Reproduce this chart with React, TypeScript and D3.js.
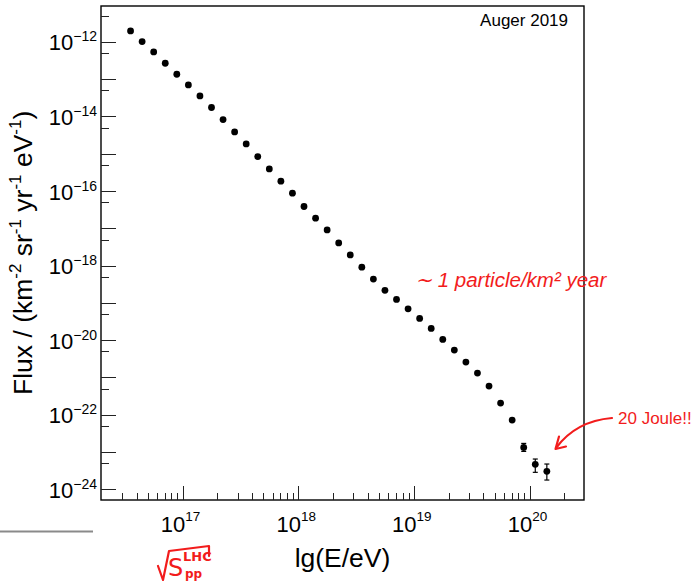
import React from "react";
import * as d3 from "d3";

// ---- data ----
const lgE = [
  16.55, 16.65, 16.75, 16.85, 16.95, 17.05, 17.15, 17.25, 17.35, 17.45,
  17.55, 17.65, 17.75, 17.85, 17.95, 18.05, 18.15, 18.25, 18.35, 18.45,
  18.55, 18.65, 18.75, 18.85, 18.95, 19.05, 19.15, 19.25, 19.35, 19.45,
  19.55, 19.65, 19.75, 19.85, 19.95, 20.05, 20.15,
];
const flux = [
  1.97e-12, 1.02e-12, 5.38e-13, 2.68e-13, 1.36e-13, 7.01e-14, 3.56e-14, 1.74e-14, 8.28e-15, 3.85e-15,
  1.84e-15, 8.43e-16, 3.93e-16, 1.84e-16, 8.75e-17, 3.85e-17, 1.87e-17, 9.08e-18, 4.07e-18, 1.94e-18,
  9.08e-19, 4.34e-19, 2.17e-19, 1.24e-19, 6.92e-20, 3.83e-20, 2.07e-20, 1.05e-20, 5.41e-21, 2.58e-21,
  1.31e-21, 5.86e-22, 2.05e-22, 7.19e-23, 1.33e-23, 4.67e-24, 3.03e-24,
];
const errUp = [
  0, 0, 0, 0, 0, 0, 0, 0, 0, 0,
  0, 0, 0, 0, 0, 0, 0, 0, 0, 0,
  0, 0, 0, 0, 0, 0, 0, 0, 0, 0,
  0, 0, 0, 0, 0.37e-23, 1.81e-24, 1.73e-24,
];
const errLow = [
  0, 0, 0, 0, 0, 0, 0, 0, 0, 0,
  0, 0, 0, 0, 0, 0, 0, 0, 0, 0,
  0, 0, 0, 0, 0, 0, 0, 0, 0, 0,
  0, 0, 0, 0, 0.29e-23, 1.82e-24, 1.26e-24,
];
const xDomain = [1.97e16, 2.96e20];
const yDomain = [5.16e-25, 9.2e-12];
const xLabelExps = [17, 18, 19, 20];
const yLabelExps = [-12, -14, -16, -18, -20, -22, -24];
const yDecades = [-25, -24, -23, -22, -21, -20, -19, -18, -17, -16, -15, -14, -13, -12, -11];
const legendText = "Auger 2019";
const xTitle = "lg(E/eV)";

const W = 699;
const H = 581;
const L = 101, R = 584, T = 6, B = 500;
const FONT = "'Liberation Sans', Arial, Helvetica, sans-serif";
const RED = "#f21c1c";

export default function App() {
  const x = d3.scaleLog().domain(xDomain).range([L, R]);
  const y = d3.scaleLog().domain(yDomain).range([B, T]);

  const xTicks = x.ticks().filter((t) => x(t) > L + 1 && x(t) < R - 1);
  const yTicks: { v: number; major: boolean }[] = [];
  yDecades.forEach((d) => {
    yTicks.push({ v: Math.pow(10, d), major: true });
    yTicks.push({ v: 5 * Math.pow(10, d), major: false });
  });
  const yT = yTicks.filter((t) => y(t.v) > T + 1 && y(t.v) < B - 1);

  return (
    <svg
      width={W}
      height={H}
      viewBox={`0 0 ${W} ${H}`}
      style={{ position: "absolute", left: 0, top: 0, background: "#fff" }}
      fontFamily={FONT}
    >
      <rect x={0} y={0} width={W} height={H} fill="#fff" />
      {/* frame */}
      <rect x={L} y={T} width={R - L} height={B - T} fill="none" stroke="#000" strokeWidth={1.4} />

      {/* x ticks */}
      {xTicks.map((t, i) => {
        const major = Math.abs(Math.log10(t) - Math.round(Math.log10(t))) < 1e-6;
        const xx = Math.round(x(t)) + 0.5;
        return (
          <line key={"xt" + i} x1={xx} x2={xx} y1={B} y2={B - (major ? 14 : 7)} stroke="#222" strokeWidth={1} />
        );
      })}
      {/* y ticks */}
      {yT.map((t, i) => {
        const yy = Math.round(y(t.v)) + 0.5;
        return (
          <line key={"yt" + i} x1={L} x2={L + (t.major ? 15 : 8)} y1={yy} y2={yy} stroke="#222" strokeWidth={1} />
        );
      })}

      {/* x labels */}
      {xLabelExps.map((e) => (
        <text key={"xl" + e} x={x(Math.pow(10, e)) - 2} y={B + 31.5} textAnchor="middle" fontSize={22} fill="#000">
          10
          <tspan fontSize={13.5} dy={-11}>{e}</tspan>
        </text>
      ))}
      {/* y labels */}
      {yLabelExps.map((e) => (
        <text key={"yl" + e} x={97} y={y(Math.pow(10, e)) + 8.5} textAnchor="end" fontSize={22} fill="#000">
          10
          <tspan fontSize={14} dy={-9}>{"\u2212" + Math.abs(e)}</tspan>
        </text>
      ))}

      {/* axis titles */}
      <text x={(L + R) / 2} y={566.5} textAnchor="middle" fontSize={26.5} fill="#000">
        {xTitle}
      </text>
      <text transform="translate(31.5,395) rotate(-90)" textAnchor="start" fontSize={26.5} fill="#000">
        Flux / (km
        <tspan fontSize={17} dy={-11}>-2</tspan>
        <tspan dy={11}> sr</tspan>
        <tspan fontSize={17} dy={-11}>-1</tspan>
        <tspan dy={11}> yr</tspan>
        <tspan fontSize={17} dy={-11}>-1</tspan>
        <tspan dy={11}> eV</tspan>
        <tspan fontSize={17} dy={-11}>-1</tspan>
        <tspan dy={11}>)</tspan>
      </text>

      {/* legend text */}
      <text x={568} y={26} textAnchor="end" fontSize={17} fill="#000">
        {legendText}
      </text>

      {/* error bars */}
      {lgE.map((le, i) => {
        if (!errUp[i] && !errLow[i]) return null;
        const cx = x(Math.pow(10, le));
        const y1 = y(flux[i] + errUp[i]);
        const y2 = y(flux[i] - errLow[i]);
        return (
          <g key={"eb" + i} stroke="#000" strokeWidth={1.2}>
            <line x1={cx} x2={cx} y1={y1} y2={y2} />
            <line x1={cx - 2.5} x2={cx + 2.5} y1={y1} y2={y1} />
            <line x1={cx - 2.5} x2={cx + 2.5} y1={y2} y2={y2} />
          </g>
        );
      })}
      {/* points */}
      {lgE.map((le, i) => (
        <circle key={"p" + i} cx={x(Math.pow(10, le))} cy={y(flux[i])} r={3.4} fill="#000" />
      ))}

      {/* gray line bottom-left */}
      <line x1={0} x2={93} y1={531.5} y2={531.5} stroke="#8a8a8a" strokeWidth={2} />

      {/* handwritten annotations */}
      <text x={415} y={287} fontSize={20.5} fill={RED} fontStyle="italic">
        {"\u223C 1 particle/km\u00B2 year"}
      </text>
      <text x={618} y={424} fontSize={17} fill={RED}>
        20 Joule!!
      </text>
      <path d="M612,418 Q576,421 556,448" fill="none" stroke={RED} strokeWidth={2.2} strokeLinecap="round" />
      <path d="M559,436.5 L555.5,449 L566,446.5" fill="none" stroke={RED} strokeWidth={2.2} strokeLinecap="round" strokeLinejoin="round" />

      {/* sqrt(s_pp^LHC) */}
      <path d="M158,566 L163,580 L169,551 L209,546 L209,556" fill="none" stroke={RED} strokeWidth={2.2} strokeLinejoin="round" strokeLinecap="round" />
      <text x={168} y={576} fontSize={24} fill={RED} fontFamily="'DejaVu Sans', sans-serif">S</text>
      <text x={183} y={561} fontSize={13} fill={RED} fontFamily="'DejaVu Sans', sans-serif" fontWeight="bold">LHC</text>
      <text x={185} y={578} fontSize={12} fill={RED} fontFamily="'DejaVu Sans', sans-serif" fontWeight="bold">pp</text>
    </svg>
  );
}
